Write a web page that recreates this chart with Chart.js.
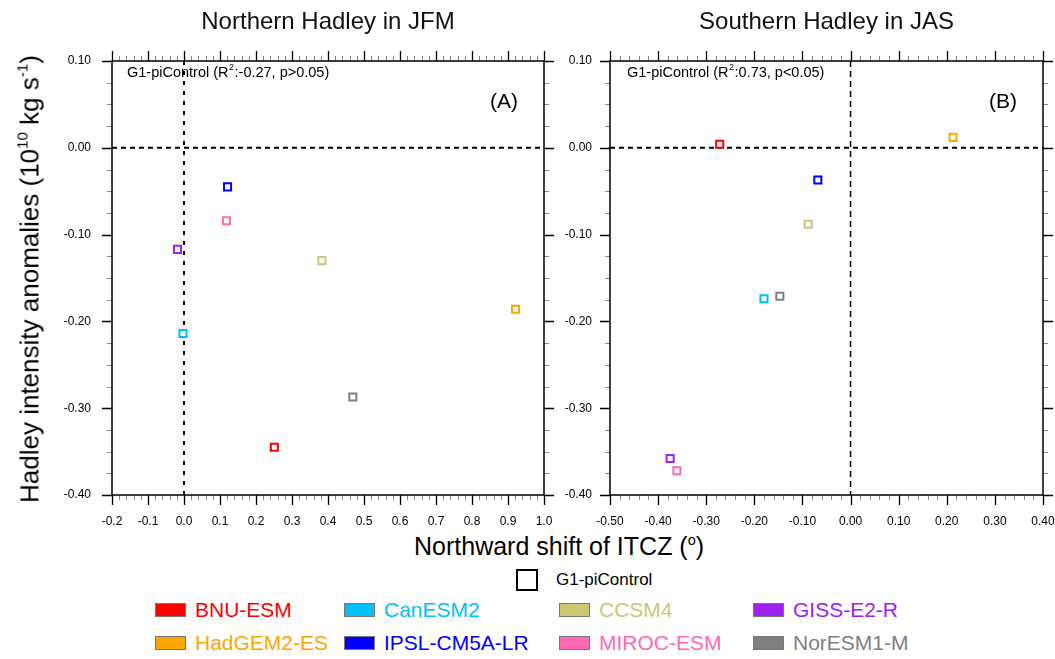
<!DOCTYPE html>
<html>
<head>
<meta charset="utf-8">
<script src="https://cdn.jsdelivr.net/npm/chart.js@4.4.1/dist/chart.umd.min.js"></script>
<style>
  html, body { margin: 0; padding: 0; background: #fff; width: 1055px; height: 659px; overflow: hidden; }
  body { position: relative; font-family: "Liberation Sans", Arial, sans-serif; color: #000; }
  #wrapA { position: absolute; left: 0; top: 0; }
  #wrapB { position: absolute; left: 560px; top: 0; }
  .xtitle { position: absolute; left: 414px; top: 532px; font-size: 25px; white-space: nowrap; }
  .ytitle { position: absolute; left: 30px; top: 279px; font-size: 26px; white-space: nowrap;
            transform: translate(-50%, -50%) rotate(-90deg); }
  sup { font-size: 58%; vertical-align: 0.7em; line-height: 0; }
  .ctrl-box { position: absolute; left: 516px; top: 569px; width: 22px; height: 22px; border: 2px solid #000; box-sizing: border-box; }
  .ctrl-label { position: absolute; left: 556px; top: 570px; font-size: 17px; line-height: 20px; }
  .leg-box { position: absolute; width: 31px; height: 14px; border: 1px solid #777; box-sizing: border-box; }
  .leg-text { position: absolute; font-size: 21px; line-height: 24px; white-space: nowrap; }
</style>
</head>
<body>
<div id="wrapA"><canvas id="chartA" width="560" height="530"></canvas></div>
<div id="wrapB"><canvas id="chartB" width="495" height="530"></canvas></div>
<div class="xtitle">Northward shift of ITCZ (<sup>o</sup>)</div>
<div class="ytitle">Hadley intensity anomalies (10<sup>10</sup> kg s<sup>-1</sup>)</div>
<div class="ctrl-box"></div>
<div class="ctrl-label">G1-piControl</div>
<div id="legend"></div>
<script>
const FONT = '"Liberation Sans", Arial, sans-serif';

// models, in legend order (row by row)
const models = ["BNU-ESM", "CanESM2", "CCSM4", "GISS-E2-R", "HadGEM2-ES", "IPSL-CM5A-LR", "MIROC-ESM", "NorESM1-M"];
const colors = ["#FF0000", "#00BFFF", "#CDC673", "#A020F0", "#FFA500", "#0000FF", "#FF69B4", "#7F7F7F"];

// (A) Northern Hadley in JFM
const northShift = [0.251, -0.003, 0.383, -0.018, 0.921, 0.121, 0.118, 0.469];
const northIntensity = [-0.345, -0.214, -0.130, -0.117, -0.186, -0.045, -0.084, -0.287];

// (B) Southern Hadley in JAS
const southShift = [-0.272, -0.180, -0.088, -0.375, 0.213, -0.068, -0.361, -0.147];
const southIntensity = [0.004, -0.174, -0.088, -0.358, 0.012, -0.037, -0.372, -0.171];

// axis ranges / ticks
const yRange = [-0.4, 0.1];
const xRangeA = [-0.2, 1.0];
const xRangeB = [-0.5, 0.4];
const refValue = 0;

function steps(min, max, step) {
    const n = Math.round((max - min) / step);
    const out = [];
    for (let i = 0; i <= n; i++) out.push(min + i * step);
    return out;
}

// outward ticks on all four sides plus frame
const frameTicks = {
    id: "frameTicks",
    afterDraw(chart, args, opts) {
        const { ctx, chartArea: a, scales: { x, y } } = chart;
        ctx.save();
        const tickX = (vals, len, lw) => {
            ctx.lineWidth = lw;
            ctx.beginPath();
            vals.forEach((v) => {
                const px = Math.round(x.getPixelForValue(v)) + 0.5;
                ctx.moveTo(px, a.bottom); ctx.lineTo(px, a.bottom + len);
                ctx.moveTo(px, a.top); ctx.lineTo(px, a.top - len);
            });
            ctx.stroke();
        };
        const tickY = (vals, len, lw) => {
            ctx.lineWidth = lw;
            ctx.beginPath();
            vals.forEach((v) => {
                const py = Math.round(y.getPixelForValue(v)) + 0.5;
                ctx.moveTo(a.left, py); ctx.lineTo(a.left - len, py);
                ctx.moveTo(a.right, py); ctx.lineTo(a.right + len, py);
            });
            ctx.stroke();
        };
        ctx.strokeStyle = "#888";
        tickX(steps(x.min, x.max, 0.02), 5, 1);
        tickY(steps(y.min, y.max, 0.025), 5, 1);
        ctx.strokeStyle = "#000";
        tickX(steps(x.min, x.max, 0.1), 10, 1.3);
        tickY(steps(y.min, y.max, 0.1), 10, 1.3);
        ctx.lineWidth = 1.5;
        ctx.strokeRect(a.left, a.top, a.right - a.left, a.bottom - a.top);
        ctx.restore();
    },
};

// dashed zero lines
const refLines = {
    id: "refLines",
    beforeDatasetsDraw(chart, args, opts) {
        const { ctx, chartArea: a, scales: { x, y } } = chart;
        ctx.save();
        ctx.strokeStyle = "#000";
        ctx.lineWidth = 2;
        ctx.setLineDash([5, 4]);
        const py = y.getPixelForValue(refValue);
        ctx.beginPath();
        ctx.moveTo(a.left, py); ctx.lineTo(a.right, py);
        ctx.stroke();
        ctx.lineWidth = opts.vWidth;
        ctx.setLineDash(opts.vDash);
        const px = x.getPixelForValue(refValue);
        ctx.beginPath();
        ctx.moveTo(px, a.top); ctx.lineTo(px, a.bottom);
        ctx.stroke();
        ctx.restore();
    },
};

// "G1-piControl (R2: ...)" and panel tag
const panelText = {
    id: "panelText",
    afterDraw(chart, args, opts) {
        const { ctx, chartArea: a } = chart;
        ctx.save();
        ctx.fillStyle = "#000";
        ctx.textBaseline = "middle";
        ctx.textAlign = "left";
        let tx = a.left + opts.offset;
        const ty = a.top + 12;
        ctx.font = "14.5px " + FONT;
        const first = "G1-piControl (R";
        ctx.fillText(first, tx, ty);
        tx += ctx.measureText(first).width;
        ctx.font = "9px " + FONT;
        ctx.fillText("2", tx + 0.5, ty - 5);
        tx += ctx.measureText("2").width + 1;
        ctx.font = "14.5px " + FONT;
        ctx.fillText(opts.stats, tx, ty);
        ctx.font = "21px " + FONT;
        ctx.textAlign = "right";
        ctx.fillText(opts.tag, a.right - 26, a.top + 41);
        ctx.restore();
    },
};

function makeDatasets(xs, ys) {
    return models.map((m, i) => ({
        label: m,
        data: [{ x: xs[i], y: ys[i] }],
        pointStyle: "rect",
        pointRadius: 5,
        pointHoverRadius: 5,
        pointBorderWidth: 2,
        borderColor: colors[i],
        backgroundColor: "#fff",
    }));
}

function fmt(d) {
    return (v) => (Math.abs(v) < 1e-9 ? 0 : v).toFixed(d);
}

function makeOptions(cfg) {
    return {
        responsive: false,
        animation: false,
        layout: { padding: { left: 0, right: cfg.padRight, top: 0, bottom: 0 } },
        plugins: {
            legend: { display: false },
            tooltip: { enabled: false },
            title: {
                display: true,
                fullSize: false,
                text: cfg.title,
                color: "#111",
                font: { family: FONT, size: 24, weight: "normal" },
                padding: { top: 8, bottom: 24.2 },
            },
            refLines: { vWidth: cfg.vWidth, vDash: cfg.vDash },
            panelText: { offset: cfg.textOffset, stats: cfg.stats, tag: cfg.tag },
        },
        scales: {
            x: {
                type: "linear",
                min: cfg.xRange[0],
                max: cfg.xRange[1],
                grid: { display: false, drawTicks: false },
                border: { display: false },
                ticks: {
                    stepSize: 0.1,
                    padding: 19,
                    autoSkip: false,
                    maxRotation: 0,
                    color: "#000",
                    font: { family: FONT, size: 12 },
                    callback: fmt(cfg.xDigits),
                },
                afterFit(s) {
                    s.height = 35;
                    s.paddingLeft = 0;
                    s.paddingRight = 0;
                },
            },
            y: {
                type: "linear",
                min: yRange[0],
                max: yRange[1],
                grid: { display: false, drawTicks: false },
                border: { display: false },
                ticks: {
                    stepSize: 0.1,
                    padding: cfg.yPad,
                    color: "#000",
                    font: { family: FONT, size: 12 },
                    callback: fmt(2),
                },
                afterFit(s) {
                    s.width = cfg.yWidth;
                    s.paddingTop = 0;
                    s.paddingBottom = 0;
                },
            },
        },
    };
}

const chartA = new Chart(document.getElementById("chartA"), {
    type: "scatter",
    data: { datasets: makeDatasets(northShift, northIntensity) },
    options: makeOptions({
        title: "Northern Hadley in JFM",
        xRange: xRangeA, xDigits: 1,
        yWidth: 112, yPad: 21, padRight: 16,
        vWidth: 2, vDash: [4, 6],
        textOffset: 15, stats: ":-0.27, p>0.05)", tag: "(A)",
    }),
    plugins: [refLines, frameTicks, panelText],
});

const chartB = new Chart(document.getElementById("chartB"), {
    type: "scatter",
    data: { datasets: makeDatasets(southShift, southIntensity) },
    options: makeOptions({
        title: "Southern Hadley in JAS",
        xRange: xRangeB, xDigits: 2,
        yWidth: 50, yPad: 18, padRight: 12,
        vWidth: 1.5, vDash: [6, 4],
        textOffset: 17, stats: ":0.73, p<0.05)", tag: "(B)",
    }),
    plugins: [refLines, frameTicks, panelText],
});

// legend
const legend = document.getElementById("legend");
const colLeft = [155, 344, 559, 753];
const rowTop = [603, 636];
models.forEach((m, i) => {
    const left = colLeft[i % 4];
    const top = rowTop[Math.floor(i / 4)];
    const box = document.createElement("div");
    box.className = "leg-box";
    box.style.left = left + "px";
    box.style.top = top + "px";
    box.style.background = colors[i];
    legend.appendChild(box);
    const txt = document.createElement("div");
    txt.className = "leg-text";
    txt.style.left = left + 40 + "px";
    txt.style.top = top - 5 + "px";
    txt.style.color = colors[i];
    txt.textContent = m;
    legend.appendChild(txt);
});
</script>
</body>
</html>
